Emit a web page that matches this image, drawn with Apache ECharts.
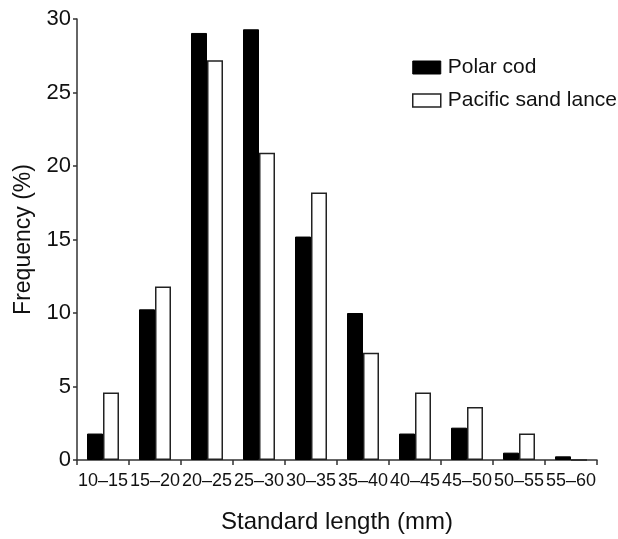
<!DOCTYPE html>
<html>
<head>
<meta charset="utf-8">
<script src="https://cdn.jsdelivr.net/npm/echarts@6/dist/echarts.min.js"></script>
<style>
  html, body { margin: 0; padding: 0; background: #fff; }
  #chart { width: 618px; height: 539px; }
</style>
</head>
<body>
<div id="chart"></div>
<script>
// 体长分组 (mm)
var categories = ['10–15', '15–20', '20–25', '25–30', '30–35', '35–40', '40–45', '45–50', '50–55', '55–60'];
// 频率 (%)
var polarCod = [1.8, 10.25, 29.05, 29.3, 15.2, 10.0, 1.8, 2.2, 0.5, 0.25];
var sandLance = [4.6, 11.8, 27.2, 20.9, 18.2, 7.3, 4.6, 3.6, 1.8, 0];
var yTicks = [0, 5, 10, 15, 20, 25, 30];

var FONT = '"Liberation Sans", Arial, sans-serif';
var AXIS_COLOR = '#333';

var chart = echarts.init(document.getElementById('chart'), null, { renderer: 'canvas' });

chart.setOption({
    animation: false,
    backgroundColor: '#fff',
    grid: { left: 77, right: 21, top: 19, bottom: 73, containLabel: false },
    legend: {
        orient: 'vertical',
        left: 412,
        top: 57,
        padding: 0,
        icon: 'rect',
        itemWidth: 28,
        itemHeight: 13,
        itemGap: 12,
        textStyle: { fontFamily: FONT, fontSize: 21, color: '#111', padding: [0, 0, 0, 2] },
        data: [
            { name: 'Polar cod', itemStyle: { color: '#000', borderColor: '#000', borderWidth: 1 } },
            { name: 'Pacific sand lance', itemStyle: { color: '#fff', borderColor: '#222', borderWidth: 1.5 } }
        ]
    },
    xAxis: {
        type: 'category',
        data: categories,
        boundaryGap: true,
        name: 'Standard length (mm)',
        nameLocation: 'middle',
        nameGap: 50,
        nameTextStyle: { fontFamily: FONT, fontSize: 24, color: '#111' },
        axisLine: { lineStyle: { color: AXIS_COLOR, width: 1.5 } },
        axisTick: { show: true, length: 5, alignWithLabel: false, lineStyle: { color: AXIS_COLOR, width: 1.5 } },
        axisLabel: { fontFamily: FONT, fontSize: 18, color: '#111', margin: 12, interval: 0 }
    },
    yAxis: {
        type: 'value',
        min: yTicks[0],
        max: yTicks[yTicks.length - 1],
        interval: 5,
        name: 'Frequency (%)',
        nameLocation: 'middle',
        nameRotate: 90,
        nameGap: 42,
        nameTextStyle: { fontFamily: FONT, fontSize: 23, color: '#111' },
        axisLine: { show: true, lineStyle: { color: AXIS_COLOR, width: 1.5 } },
        axisTick: { show: true, length: 4, lineStyle: { color: AXIS_COLOR, width: 1.5 } },
        axisLabel: { fontFamily: FONT, fontSize: 22, color: '#111', margin: 6 },
        splitLine: { show: false }
    },
    series: [
        {
            name: 'Polar cod',
            type: 'bar',
            data: polarCod,
            barWidth: 16,
            barGap: '0%',
            itemStyle: { color: '#000', borderColor: '#000', borderWidth: 1 }
        },
        {
            name: 'Pacific sand lance',
            type: 'bar',
            data: sandLance,
            barWidth: 16,
            barGap: '0%',
            itemStyle: { color: '#fff', borderColor: '#222', borderWidth: 1.5 }
        }
    ]
});
</script>
</body>
</html>
